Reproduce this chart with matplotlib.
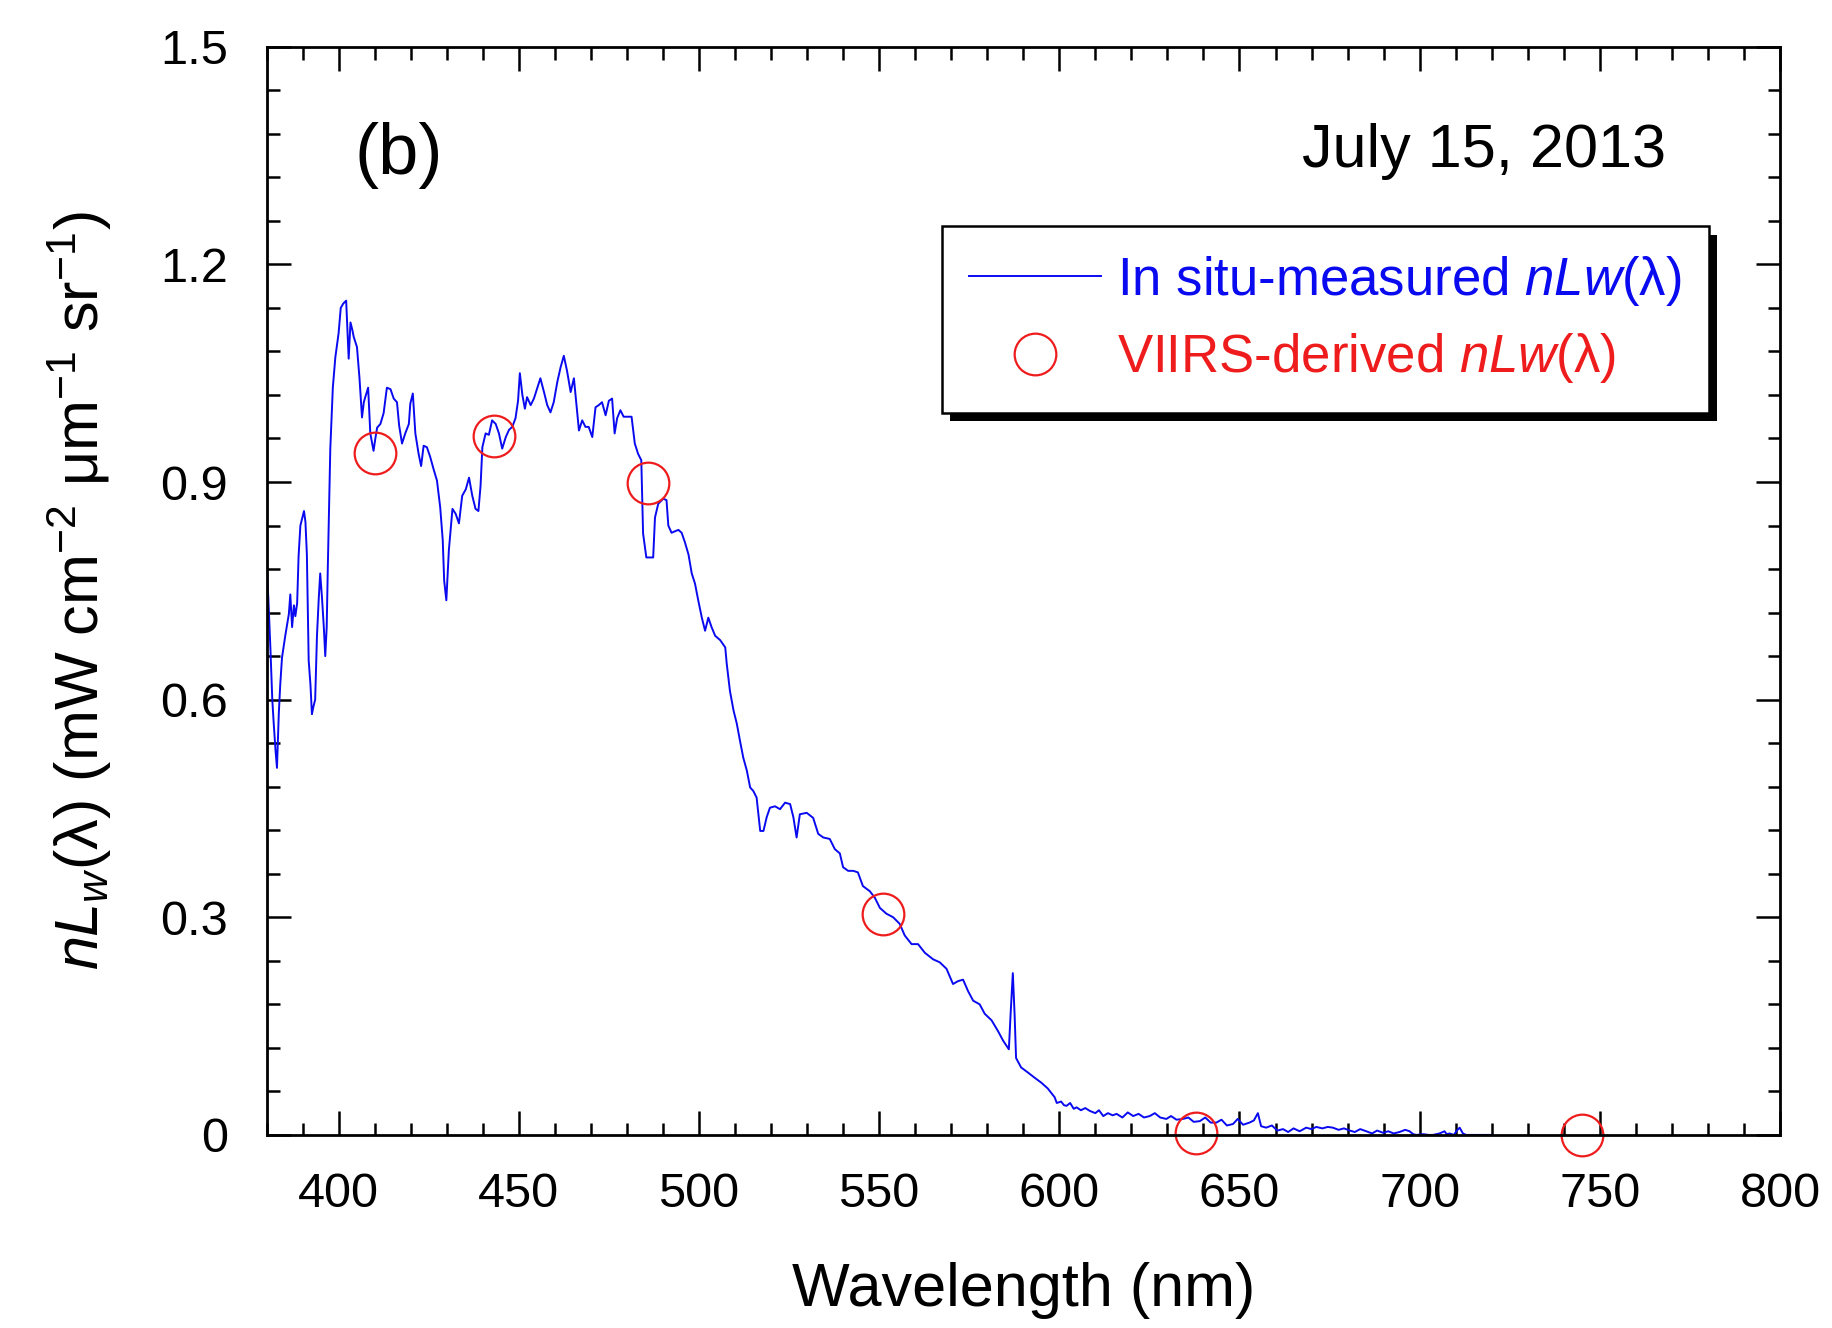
import numpy as np
import matplotlib
matplotlib.use('Agg')
import matplotlib.pyplot as plt
import matplotlib.patheffects as pe
from matplotlib.ticker import MultipleLocator, FuncFormatter

plt.rcParams['font.family'] = ['Liberation Sans', 'DejaVu Sans']
plt.rcParams['mathtext.fontset'] = 'custom'
plt.rcParams['mathtext.rm'] = 'Liberation Sans'
plt.rcParams['mathtext.it'] = 'Liberation Sans:italic'
plt.rcParams['mathtext.bf'] = 'Liberation Sans:bold'

# in situ spectrum
wl = [380.0, 380.5, 381.1, 381.6, 382.0, 382.5, 382.9, 383.4, 383.8, 384.3, 385.2, 386.2, 386.6, 387.1,
      387.6, 388.0, 388.5, 388.9, 389.4, 389.9, 390.4, 390.8, 391.2, 391.7, 392.2, 392.6, 393.0, 393.5,
      394.0, 394.5, 394.9, 395.4, 395.9, 396.3, 396.7, 397.0, 397.7, 398.4, 399.1, 400.0, 400.6, 401.3,
      402.1, 402.8, 403.3, 403.8, 404.2, 405.1, 405.8, 406.5, 407.0, 407.4, 408.2, 408.8, 409.7, 410.2,
      410.7, 411.6, 412.5, 413.4, 414.4, 415.3, 416.2, 416.8, 417.6, 418.5, 419.5, 419.9, 420.6, 421.3,
      422.2, 422.9, 423.6, 424.5, 425.4, 426.4, 427.3, 428.2, 428.9, 429.3, 429.9, 430.6, 431.6, 432.5,
      433.4, 434.3, 435.3, 436.2, 437.1, 438.0, 438.8, 439.4, 439.9, 440.8, 441.7, 442.6, 443.6, 444.5,
      445.4, 446.4, 447.3, 448.2, 449.1, 449.8, 450.3, 451.0, 451.7, 452.3, 453.3, 454.2, 455.1, 456.0,
      457.0, 457.9, 458.8, 459.7, 460.7, 461.6, 462.5, 463.4, 464.4, 465.3, 465.9, 466.7, 467.6, 468.5,
      469.4, 470.4, 471.3, 472.2, 473.1, 474.1, 475.0, 475.9, 476.6, 477.3, 478.2, 479.1, 480.1, 481.3,
      482.2, 483.1, 484.0, 484.5, 485.4, 486.4, 487.3, 487.8, 488.7, 490.1, 491.0, 491.5, 492.4, 493.3,
      494.3, 495.2, 496.1, 497.1, 498.0, 498.9, 499.8, 500.8, 501.7, 502.6, 503.5, 504.5, 505.9, 507.3,
      507.7, 508.6, 509.6, 510.5, 511.4, 512.3, 513.3, 514.2, 515.1, 516.0, 517.0, 517.9, 518.8, 519.7,
      521.1, 522.5, 523.9, 525.3, 526.2, 527.1, 528.0, 529.9, 531.7, 533.1, 534.5, 536.3, 537.7, 539.1,
      540.0, 541.4, 542.8, 544.1, 545.5, 547.4, 548.8, 550.2, 552.0, 553.9, 555.7, 557.1, 559.0, 560.8,
      562.7, 565.0, 566.8, 568.7, 570.5, 571.9, 573.3, 574.7, 576.1, 577.9, 579.3, 581.2, 583.0, 584.4,
      586.0, 586.5, 587.1, 587.6, 588.0, 589.4, 591.3, 593.1, 595.0, 596.8, 598.7, 599.3, 600.5, 601.3,
      602.0, 603.0, 604.0, 604.8, 606.0, 607.2, 608.5, 610.0, 611.0, 612.2, 613.5, 614.8, 615.9, 617.5,
      619.0, 620.5, 622.0, 623.5, 625.1, 626.5, 628.0, 629.7, 631.0, 632.5, 634.3, 635.8, 637.3, 639.0,
      640.5, 642.0, 643.6, 645.0, 646.5, 648.2, 649.5, 651.0, 652.8, 654.0, 655.1, 656.0, 657.4, 659.0,
      660.5, 662.1, 663.5, 665.0, 666.7, 668.5, 670.0, 671.3, 673.0, 674.5, 675.9, 677.5, 679.0, 680.6,
      682.0, 683.5, 685.2, 686.8, 688.2, 689.8, 691.3, 692.8, 694.4, 696.0, 697.2, 698.2, 699.1, 701.0,
      702.5, 703.7, 705.5, 706.9, 707.5, 708.3, 709.5, 710.3, 711.1, 712.0, 712.9, 714.5, 715.7, 718.0,
      720.0]
nlw = [0.790, 0.740, 0.668, 0.600, 0.567, 0.530, 0.506, 0.580, 0.620, 0.658, 0.688, 0.718, 0.745, 0.700,
       0.730, 0.715, 0.733, 0.798, 0.840, 0.850, 0.860, 0.845, 0.800, 0.654, 0.620, 0.580, 0.590, 0.600,
       0.688, 0.740, 0.774, 0.740, 0.700, 0.660, 0.700, 0.780, 0.946, 1.030, 1.072, 1.105, 1.140, 1.146,
       1.150, 1.070, 1.120, 1.110, 1.100, 1.086, 1.043, 0.989, 1.010, 1.017, 1.030, 0.967, 0.943, 0.960,
       0.975, 0.980, 0.995, 1.030, 1.028, 1.015, 1.010, 0.978, 0.953, 0.967, 0.980, 1.008, 1.022, 0.967,
       0.939, 0.922, 0.950, 0.948, 0.935, 0.917, 0.902, 0.865, 0.820, 0.764, 0.737, 0.806, 0.863, 0.856,
       0.843, 0.881, 0.890, 0.906, 0.881, 0.863, 0.860, 0.895, 0.948, 0.967, 0.965, 0.985, 0.980, 0.967,
       0.946, 0.962, 0.972, 0.976, 0.988, 1.012, 1.050, 1.020, 1.001, 1.017, 1.006, 1.015, 1.029, 1.043,
       1.024, 1.006, 0.996, 1.010, 1.038, 1.058, 1.074, 1.053, 1.024, 1.043, 1.012, 0.971, 0.985, 0.976,
       0.976, 0.962, 1.003, 1.006, 1.010, 0.992, 1.012, 1.015, 0.967, 0.988, 0.999, 0.990, 0.990, 0.990,
       0.953, 0.939, 0.930, 0.829, 0.796, 0.796, 0.796, 0.851, 0.870, 0.877, 0.875, 0.840, 0.830, 0.832,
       0.834, 0.830, 0.817, 0.800, 0.774, 0.760, 0.737, 0.713, 0.695, 0.713, 0.700, 0.688, 0.682, 0.672,
       0.650, 0.612, 0.585, 0.567, 0.543, 0.520, 0.502, 0.479, 0.474, 0.465, 0.419, 0.419, 0.438, 0.451,
       0.453, 0.449, 0.458, 0.456, 0.438, 0.410, 0.442, 0.444, 0.437, 0.415, 0.410, 0.408, 0.394, 0.388,
       0.369, 0.364, 0.364, 0.362, 0.343, 0.336, 0.327, 0.313, 0.305, 0.300, 0.291, 0.275, 0.263, 0.263,
       0.251, 0.242, 0.238, 0.229, 0.208, 0.212, 0.214, 0.198, 0.185, 0.180, 0.167, 0.158, 0.143, 0.130,
       0.118, 0.168, 0.223, 0.165, 0.106, 0.093, 0.086, 0.079, 0.072, 0.064, 0.052, 0.044, 0.046, 0.041,
       0.040, 0.044, 0.036, 0.038, 0.034, 0.037, 0.033, 0.030, 0.034, 0.026, 0.030, 0.027, 0.029, 0.024,
       0.031, 0.026, 0.029, 0.024, 0.026, 0.030, 0.024, 0.022, 0.026, 0.021, 0.022, 0.024, 0.018, 0.019,
       0.024, 0.017, 0.017, 0.021, 0.013, 0.015, 0.022, 0.014, 0.017, 0.020, 0.030, 0.012, 0.010, 0.013,
       0.006, 0.008, 0.004, 0.009, 0.005, 0.010, 0.008, 0.011, 0.009, 0.011, 0.010, 0.007, 0.009, 0.006,
       0.004, 0.008, 0.005, 0.002, 0.006, 0.003, 0.005, 0.002, 0.004, 0.007, 0.005, 0.001, 0.000, 0.001,
       0.000, 0.000, 0.002, 0.005, 0.001, 0.002, 0.000, 0.006, 0.010, 0.002, 0.000, 0.000, 0.000, 0.000,
       0.000]

# VIIRS bands
viirs_wl = [410, 443, 486, 551, 638, 745]
viirs_nlw = [0.940, 0.963, 0.898, 0.305, 0.003, 0.000]

fig = plt.figure(figsize=(18.33, 13.28), dpi=100)
ax = fig.add_axes([0.1454, 0.1454, 0.8257, 0.8194])

ax.plot(wl, nlw, color='#0a0af0', lw=1.4, label=r'In situ-measured $nLw$(λ)')
ax.plot(viirs_wl, viirs_nlw, linestyle='none', marker='o', ms=30, mfc='none', mec='#ee1c1c', mew=1.6,
        label=r'VIIRS-derived $nLw$(λ)', clip_on=False)

ax.set_xlim(380, 800)
ax.set_ylim(0, 1.5)
ax.xaxis.set_major_locator(MultipleLocator(50))
ax.xaxis.set_minor_locator(MultipleLocator(10))
ax.yaxis.set_major_locator(MultipleLocator(0.3))
ax.yaxis.set_minor_locator(MultipleLocator(0.06))
ax.yaxis.set_major_formatter(FuncFormatter(lambda v, p: '%g' % round(v, 2)))

ax.tick_params(which='both', direction='in', top=True, right=True, width=1.8)
ax.tick_params(which='major', length=17)
ax.tick_params(which='minor', length=9)
ax.tick_params(axis='x', labelsize=35, pad=27)
ax.tick_params(axis='y', labelsize=35, pad=28)
for s in ax.spines.values():
    s.set_linewidth(2.0)

ax.set_xlabel('Wavelength (nm)', fontsize=44, labelpad=32)
ax.set_ylabel(r'$nL_w$(λ) (mW cm$^{-2}$ μm$^{-1}$ sr$^{-1}$)', fontsize=44, labelpad=33)

ax.text(0.0873, 0.9, '(b)', transform=ax.transAxes, fontsize=52, ha='center', va='center')
ax.text(0.9246, 0.9035, 'July 15, 2013', transform=ax.transAxes, fontsize=44, ha='right', va='center')

leg = ax.legend(loc='upper right', bbox_to_anchor=(0.953, 0.835), fontsize=38, labelcolor=['#0a0af0', '#ee1c1c'],
                fancybox=False, framealpha=1, edgecolor='black', handlelength=2.5, handletextpad=0.3,
                borderpad=0.52, labelspacing=0.45, borderaxespad=0)
leg.get_frame().set_linewidth(1.8)
leg.get_frame().set_path_effects([pe.SimplePatchShadow(offset=(6, -6), shadow_rgbFace='black', alpha=1.0),
                                  pe.Normal()])

plt.savefig('out.png', dpi=100)
